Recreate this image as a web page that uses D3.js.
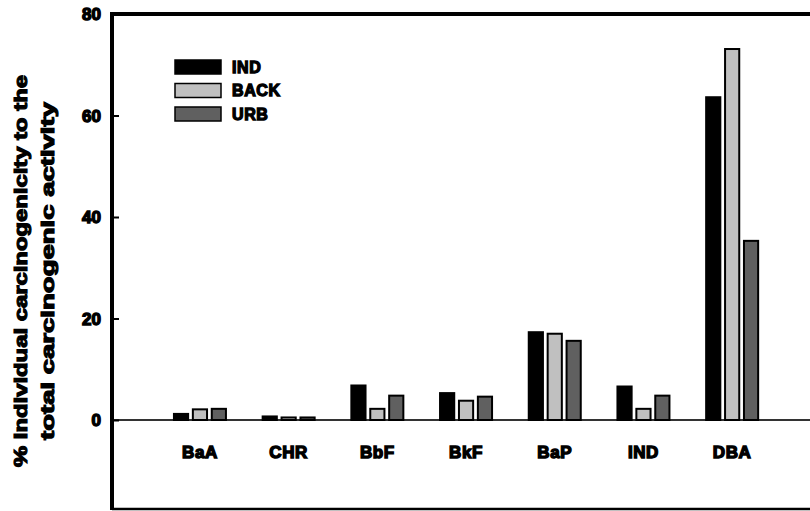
<!DOCTYPE html>
<html>
<head>
<meta charset="utf-8">
<script src="https://cdn.jsdelivr.net/npm/d3@7"></script>
<style>
  body { margin: 0; background: #fff; }
  text { font-family: "Liberation Sans", Arial, sans-serif; font-weight: bold; }
</style>
</head>
<body>
<script>
// values
const categories = ["BaA", "CHR", "BbF", "BkF", "BaP", "IND", "DBA"];
const series = ["IND", "BACK", "URB"];
const indValues  = [1.2, 0.7, 6.8, 5.3, 17.3, 6.6, 63.6];
const backValues = [2.1, 0.5, 2.2, 3.8, 17.0, 2.2, 73.1];
const urbValues  = [2.2, 0.5, 4.8, 4.6, 15.6, 4.8, 35.3];
const yTicks = [0, 20, 40, 60, 80];
const colors = ["#000000", "#c0c0c0", "#606060"];

const width = 810, height = 511;
const plotLeft = 112, plotTop = 14, plotBottom = 509;

const data = categories.map(function (c, i) {
    return {cat: c, vals: [indValues[i], backValues[i], urbValues[i]]};
});

const svg = d3.select("body").append("svg")
    .attr("width", width)
    .attr("height", height);

const y = d3.scaleLinear()
    .domain([0, 80])
    .range([420, plotTop]);

const x = d3.scaleBand()
    .domain(categories)
    .range([155.6, 776.5])
    .paddingInner(0)
    .paddingOuter(0);

const xs = d3.scaleBand()
    .domain(series)
    .range([-26, 26])
    .paddingInner(0.25);

// frame
svg.append("line").attr("x1", plotLeft).attr("x2", width).attr("y1", plotTop).attr("y2", plotTop)
    .attr("stroke", "#000").attr("stroke-width", 4);
svg.append("line").attr("x1", plotLeft).attr("x2", width).attr("y1", plotBottom).attr("y2", plotBottom)
    .attr("stroke", "#000").attr("stroke-width", 2.5);

// zero line
svg.append("line").attr("x1", plotLeft).attr("x2", width).attr("y1", y(0)).attr("y2", y(0))
    .attr("stroke", "#333").attr("stroke-width", 2);

// bars
const g = svg.selectAll("g.cat")
    .data(data)
    .enter()
    .append("g")
    .attr("class", "cat")
    .attr("transform", function (d) {
        return "translate(" + (x(d.cat) + x.bandwidth() / 2) + ",0)";
    });

g.selectAll("rect")
    .data(function (d) { return d.vals; })
    .enter()
    .append("rect")
    .attr("x", function (d, i) { return xs(series[i]); })
    .attr("width", xs.bandwidth())
    .attr("y", function (d) { return y(d); })
    .attr("height", function (d) { return y(0) - y(d); })
    .attr("fill", function (d, i) { return colors[i]; })
    .attr("stroke", "#000")
    .attr("stroke-width", 2);

// y axis
const yAxis = svg.append("g")
    .attr("transform", "translate(" + plotLeft + ",0)")
    .call(d3.axisRight(y).tickValues(yTicks).tickSize(7).tickFormat(""));
yAxis.select(".domain").remove();
yAxis.selectAll(".tick line").attr("stroke", "#000").attr("stroke-width", 2);
svg.append("line").attr("x1", plotLeft).attr("x2", plotLeft).attr("y1", plotTop - 2).attr("y2", plotBottom + 1)
    .attr("stroke", "#000").attr("stroke-width", 4);

svg.selectAll("text.ytick")
    .data(yTicks)
    .enter()
    .append("text")
    .attr("class", "ytick")
    .attr("x", 101)
    .attr("y", function (d) { return y(d); })
    .attr("dy", "0.36em")
    .attr("text-anchor", "end")
    .attr("font-size", 17)
    .attr("stroke", "#000").attr("stroke-width", 1.4)
    .text(function (d) { return d; });

// category labels
svg.selectAll("text.xlab")
    .data(categories)
    .enter()
    .append("text")
    .attr("class", "xlab")
    .attr("x", function (d) { return x(d) + x.bandwidth() / 2; })
    .attr("y", 458)
    .attr("text-anchor", "middle")
    .attr("font-size", 17)
    .attr("letter-spacing", 0.6)
    .attr("stroke", "#000").attr("stroke-width", 1.4)
    .text(function (d) { return d; });

// y title
const yt = svg.append("text")
    .attr("transform", "translate(0,271) rotate(-90)")
    .attr("text-anchor", "middle")
    .attr("font-size", 18)
    .attr("stroke", "#000").attr("stroke-width", 1.1);
yt.append("tspan").attr("x", 0).attr("y", 27)
    .attr("textLength", 392).attr("lengthAdjust", "spacingAndGlyphs")
    .text("% Individual carcinogenicity to the");
yt.append("tspan").attr("x", 0).attr("y", 54)
    .attr("textLength", 338).attr("lengthAdjust", "spacingAndGlyphs")
    .text("total carcinogenic activity");

// legend
const leg = svg.selectAll("g.leg")
    .data(series)
    .enter()
    .append("g")
    .attr("class", "leg")
    .attr("transform", function (d, i) { return "translate(175," + (60 + i * 23.5) + ")"; });
leg.append("rect")
    .attr("width", 46).attr("height", 14)
    .attr("fill", function (d, i) { return colors[i]; })
    .attr("stroke", "#000").attr("stroke-width", 1.5);
leg.append("text")
    .attr("x", 57).attr("y", 7).attr("dy", "0.36em")
    .attr("font-size", 16)
    .attr("letter-spacing", 0.6)
    .attr("stroke", "#000").attr("stroke-width", 1.3)
    .text(function (d) { return d; });
</script>
</body>
</html>
